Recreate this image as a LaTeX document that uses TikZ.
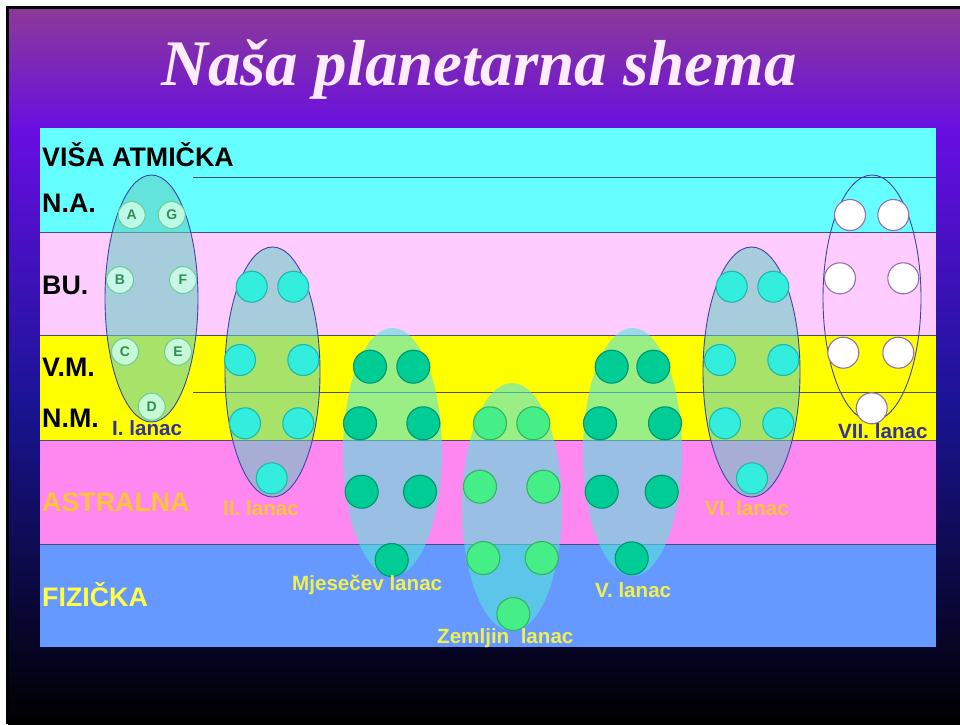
\documentclass[tikz,border=0pt]{standalone}
\usepackage{fontspec}
\setmainfont{Liberation Serif}
\setsansfont{Liberation Sans}
\usetikzlibrary{shapes.geometric}
\definecolor{bgA}{RGB}{140,58,152}
\definecolor{bgB}{RGB}{104,14,226}
\definecolor{bgC}{RGB}{26,20,150}
\definecolor{titlecol}{RGB}{255,236,255}
\definecolor{cyanband}{RGB}{102,255,255}
\definecolor{lpink}{RGB}{255,204,255}
\definecolor{yband}{RGB}{255,255,0}
\definecolor{astral}{RGB}{255,136,240}
\definecolor{fizblue}{RGB}{102,153,255}
\definecolor{bandline}{RGB}{70,80,110}
\definecolor{chainedge}{RGB}{60,70,170}
\definecolor{chainfillA}{RGB}{95,205,190}
\definecolor{chainfillB}{RGB}{85,228,220}
\definecolor{gIfill}{RGB}{205,255,232}
\definecolor{gIedge}{RGB}{110,205,160}
\definecolor{gItext}{RGB}{50,140,90}
\definecolor{gcyan}{RGB}{51,238,221}
\definecolor{gcyanedge}{RGB}{30,185,170}
\definecolor{gteal}{RGB}{0,204,150}
\definecolor{gtealedge}{RGB}{0,150,110}
\definecolor{ggreen}{RGB}{70,238,136}
\definecolor{ggreenedge}{RGB}{50,180,100}
\definecolor{gwhiteedge}{RGB}{150,110,170}
\definecolor{dblue}{RGB}{51,51,153}
\definecolor{lorange}{RGB}{255,196,60}
\definecolor{lyellow}{RGB}{240,240,80}
\definecolor{fyellow}{RGB}{255,255,70}
\tikzset{
  titlefont/.style={font=\rmfamily\bfseries\itshape\fontsize{65}{65}\selectfont, text=titlecol, anchor=base, inner sep=0pt},
  bandlabel/.style={font=\sffamily\bfseries\fontsize{26.8}{27}\selectfont, anchor=base west, inner sep=0pt},
  chainlabel/.style={font=\sffamily\bfseries\fontsize{20.6}{21}\selectfont, anchor=base west, inner sep=0pt},
  bandrule/.style={draw=bandline, line width=0.9pt},
  chain/.style={ellipse, inner sep=0pt},
  chainA/.style={chain, fill=chainfillA, fill opacity=0.55, draw=chainedge, draw opacity=1, line width=0.9pt},
  chainB/.style={chain, fill=chainfillB, fill opacity=0.6},
  chainC/.style={chain, draw=chainedge, line width=0.9pt},
  globe/.style={circle, inner sep=0pt, minimum size=31pt, line width=1.1pt},
  globeI/.style={globe, minimum size=27pt, fill=gIfill, fill opacity=0.85, text opacity=1, draw=gIedge, text=gItext, font=\sffamily\bfseries\fontsize{14}{14}\selectfont},
  globeC/.style={globe, fill=gcyan, draw=gcyanedge},
  globeT/.style={globe, minimum size=33pt, fill=gteal, draw=gtealedge},
  globeG/.style={globe, minimum size=33pt, fill=ggreen, draw=ggreenedge},
  globeW/.style={globe, fill=white, draw=gwhiteedge}
}
\begin{document}
\begin{tikzpicture}[x=1pt,y=-1pt]
\useasboundingbox (0,0) rectangle (960,724);
\fill[white] (0,0) rectangle (960,724);
% slide background
\shade[top color=bgA, bottom color=bgB] (8,8) rectangle (960,131);
\shade[top color=bgB, bottom color=bgC] (8,130) rectangle (960,401);
\shade[top color=bgC, bottom color=black] (8,400) rectangle (960,724);
\fill[black] (6,6) rectangle (960,9);
\fill[black] (6,6) rectangle (9,724);
% title
\node[titlefont] (title) at (479,85) {Naša planetarna shema};
% bands
\fill[cyanband] (40,128) rectangle (936,232);
\fill[lpink] (40,232) rectangle (936,335);
\fill[yband] (40,335) rectangle (936,440);
\fill[astral] (40,440) rectangle (936,544);
\fill[fizblue] (40,544) rectangle (936,647);
\draw[bandrule] (40,232) -- (936,232);
\draw[bandrule] (40,335) -- (936,335);
\draw[bandrule] (40,440) -- (936,440);
\draw[bandrule] (40,544) -- (936,544);
\draw[bandrule] (193,177.5) -- (936,177.5);
\draw[bandrule] (193,392) -- (936,392);
% band labels
\node[bandlabel] (visa) at (42,166) {VIŠA ATMIČKA};
\node[bandlabel] (na) at (42,212) {N.A.};
\node[bandlabel] (bu) at (42,294) {BU.};
\node[bandlabel] (vm) at (42,376) {V.M.};
\node[bandlabel] (nm) at (42,427) {N.M.};
\node[bandlabel, text=lorange] (astr) at (42,511) {ASTRALNA};
\node[bandlabel, text=fyellow] (fiz) at (42,606) {FIZIČKA};
% chains (ellipses)
\node[chainA, minimum width=93pt, minimum height=247pt] (e1) at (151.5,298.5) {};
\node[chainA, minimum width=95pt, minimum height=250pt] (e2) at (272.5,372) {};
\node[chainB, minimum width=99pt, minimum height=248pt] (e3) at (392.5,452) {};
\node[chainB, minimum width=100pt, minimum height=248pt] (e4) at (512,507) {};
\node[chainB, minimum width=99pt, minimum height=248pt] (e5) at (632.5,452) {};
\node[chainA, minimum width=97pt, minimum height=250pt] (e6) at (751.5,372) {};
\node[chainC, minimum width=98pt, minimum height=246pt] (e7) at (872,298) {};
% I. lanac globes
\node[globeI] (g1a) at (131.7,215) {A};
\node[globeI] (g1g) at (171.7,215) {G};
\node[globeI] (g1b) at (120,280) {B};
\node[globeI] (g1f) at (183,280) {F};
\node[globeI] (g1c) at (125,351.7) {C};
\node[globeI] (g1e) at (178,351.7) {E};
\node[globeI] (g1d) at (151.7,406.7) {D};
% II. lanac
\node[globeC] (g2a) at (251.7,286.7) {};
\node[globeC] (g2b) at (293.3,286.7) {};
\node[globeC] (g2c) at (240,360) {};
\node[globeC] (g2d) at (303.3,360) {};
\node[globeC] (g2e) at (245,423.3) {};
\node[globeC] (g2f) at (298.3,423.3) {};
\node[globeC] (g2g) at (271.7,478.3) {};
% Mjesecev lanac
\node[globeT] (g3a) at (370,366.7) {};
\node[globeT] (g3b) at (413.3,366.7) {};
\node[globeT] (g3c) at (360,423.3) {};
\node[globeT] (g3d) at (423.3,423.3) {};
\node[globeT] (g3e) at (361.7,491.7) {};
\node[globeT] (g3f) at (420,491.7) {};
\node[globeT] (g3g) at (391.7,560) {};
% Zemljin lanac
\node[globeG] (g4a) at (490,423.3) {};
\node[globeG] (g4b) at (533.3,423.3) {};
\node[globeG] (g4c) at (480,486.7) {};
\node[globeG] (g4d) at (543.3,486.7) {};
\node[globeG] (g4e) at (483.3,558) {};
\node[globeG] (g4f) at (541.7,558) {};
\node[globeG] (g4g) at (513.3,614) {};
% V. lanac
\node[globeT] (g5a) at (611.7,366.7) {};
\node[globeT] (g5b) at (653.3,366.7) {};
\node[globeT] (g5c) at (600,423.3) {};
\node[globeT] (g5d) at (665,423.3) {};
\node[globeT] (g5e) at (601.7,491.7) {};
\node[globeT] (g5f) at (661.7,491.7) {};
\node[globeT] (g5g) at (631.7,558.3) {};
% VI. lanac
\node[globeC] (g6a) at (731.7,286.7) {};
\node[globeC] (g6b) at (773.3,286.7) {};
\node[globeC] (g6c) at (720,360) {};
\node[globeC] (g6d) at (783.3,360) {};
\node[globeC] (g6e) at (725,423.3) {};
\node[globeC] (g6f) at (778.3,423.3) {};
\node[globeC] (g6g) at (752,478.3) {};
% VII. lanac
\node[globeW] (g7a) at (850,215) {};
\node[globeW] (g7b) at (893.3,215) {};
\node[globeW] (g7c) at (840,278.3) {};
\node[globeW] (g7d) at (903.3,278.3) {};
\node[globeW] (g7e) at (843.3,352.7) {};
\node[globeW] (g7f) at (898.3,352.7) {};
\node[globeW] (g7g) at (871.7,408.3) {};
% chain labels
\node[chainlabel, text=dblue] (l1) at (112,435) {I. lanac};
\node[chainlabel, text=lorange] (l2) at (223,515) {II. lanac};
\node[chainlabel, text=lyellow] (l3) at (292,590) {Mjesečev lanac};
\node[chainlabel, text=lyellow] (l4) at (437,643) {Zemljin\ \ lanac};
\node[chainlabel, text=lyellow] (l5) at (595,597.7) {V. lanac};
\node[chainlabel, text=lorange] (l6) at (705,515) {VI. lanac};
\node[chainlabel, text=dblue] (l7) at (838,438) {VII. lanac};
\end{tikzpicture}
\end{document}
